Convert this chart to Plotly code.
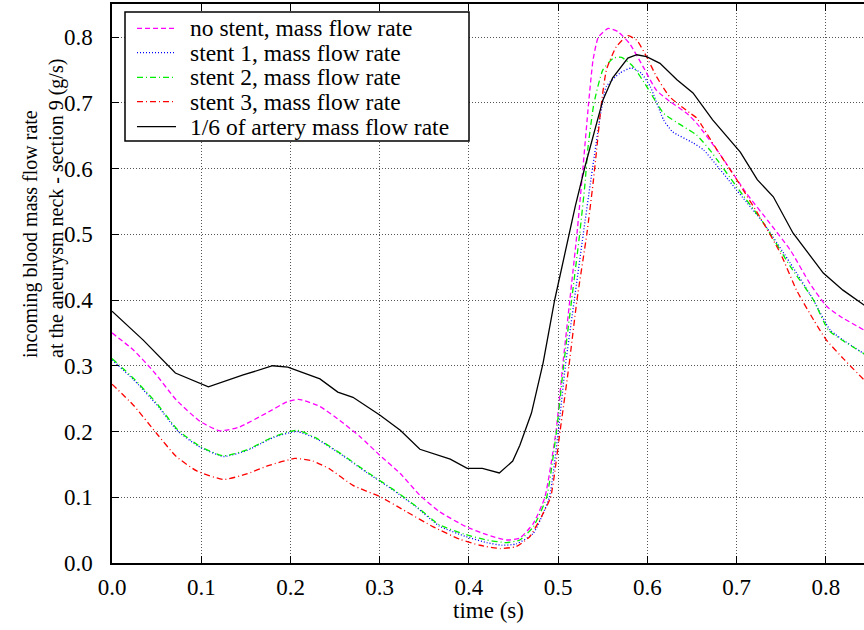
import plotly.graph_objects as go

# ---- data ----
T_NOSTENT = [0, 0.024, 0.048, 0.072, 0.099, 0.121, 0.143, 0.173, 0.196, 0.209, 0.233, 0.255, 0.278, 0.300,
             0.323, 0.345, 0.367, 0.397, 0.420, 0.442, 0.457, 0.472, 0.485, 0.4975, 0.505, 0.513, 0.521, 0.527,
             0.534, 0.539, 0.545, 0.556, 0.567, 0.580, 0.595, 0.610, 0.625, 0.644, 0.655, 0.678, 0.711, 0.737,
             0.760, 0.782, 0.801, 0.816, 0.843]
V_NOSTENT = [0.350, 0.324, 0.289, 0.248, 0.215, 0.201, 0.207, 0.228, 0.245, 0.249, 0.238, 0.217, 0.192, 0.164,
             0.136, 0.103, 0.078, 0.055, 0.043, 0.035, 0.038, 0.060, 0.100, 0.200, 0.300, 0.400, 0.501, 0.590,
             0.699, 0.765, 0.800, 0.813, 0.808, 0.790, 0.755, 0.719, 0.702, 0.684, 0.669, 0.628, 0.562, 0.517,
             0.476, 0.425, 0.390, 0.375, 0.354]

T_STENT1 = [0, 0.024, 0.050, 0.074, 0.099, 0.125, 0.151, 0.181, 0.207, 0.229, 0.259, 0.285, 0.315, 0.341,
            0.367, 0.397, 0.420, 0.437, 0.453, 0.472, 0.490, 0.500, 0.508, 0.518, 0.528, 0.536, 0.547, 0.554,
            0.569, 0.582, 0.593, 0.603, 0.618, 0.628, 0.651, 0.663, 0.700, 0.730, 0.760, 0.786, 0.805, 0.843]
V_STENT1 = [0.309, 0.279, 0.241, 0.200, 0.176, 0.162, 0.171, 0.191, 0.200, 0.189, 0.163, 0.138, 0.111, 0.085,
            0.056, 0.040, 0.031, 0.027, 0.029, 0.045, 0.100, 0.200, 0.300, 0.400, 0.500, 0.577, 0.679, 0.725,
            0.745, 0.753, 0.745, 0.725, 0.674, 0.656, 0.639, 0.628, 0.567, 0.517, 0.456, 0.400, 0.354, 0.318]

T_STENT2 = [0, 0.024, 0.050, 0.074, 0.099, 0.125, 0.151, 0.181, 0.207, 0.229, 0.259, 0.285, 0.315, 0.341,
            0.367, 0.397, 0.420, 0.442, 0.457, 0.472, 0.487, 0.498, 0.506, 0.515, 0.524, 0.530, 0.533, 0.540,
            0.550, 0.562, 0.571, 0.584, 0.599, 0.618, 0.640, 0.655, 0.670, 0.700, 0.730, 0.760, 0.786, 0.803,
            0.843]
V_STENT2 = [0.311, 0.281, 0.243, 0.202, 0.177, 0.163, 0.172, 0.192, 0.202, 0.190, 0.164, 0.139, 0.112, 0.086,
            0.058, 0.043, 0.035, 0.031, 0.035, 0.055, 0.100, 0.200, 0.300, 0.400, 0.500, 0.577, 0.628, 0.699,
            0.750, 0.768, 0.769, 0.755, 0.725, 0.684, 0.664, 0.651, 0.628, 0.572, 0.517, 0.451, 0.400, 0.354,
            0.318]

T_STENT3 = [0, 0.024, 0.050, 0.072, 0.095, 0.125, 0.150, 0.175, 0.205, 0.225, 0.244, 0.270, 0.300, 0.330,
            0.360, 0.390, 0.412, 0.435, 0.453, 0.468, 0.481, 0.4915, 0.502, 0.512, 0.521, 0.532, 0.539, 0.543,
            0.548, 0.554, 0.565, 0.578, 0.588, 0.599, 0.610, 0.625, 0.648, 0.655, 0.678, 0.700, 0.730, 0.749,
            0.767, 0.786, 0.800, 0.820, 0.843]
V_STENT3 = [0.272, 0.240, 0.197, 0.162, 0.140, 0.127, 0.135, 0.148, 0.159, 0.155, 0.143, 0.118, 0.101, 0.078,
            0.055, 0.036, 0.027, 0.022, 0.025, 0.040, 0.070, 0.100, 0.200, 0.300, 0.400, 0.500, 0.577, 0.628,
            0.695, 0.750, 0.785, 0.802, 0.795, 0.770, 0.740, 0.709, 0.684, 0.677, 0.628, 0.583, 0.517, 0.471,
            0.415, 0.370, 0.340, 0.310, 0.278]

T_ARTERY = [0, 0.035, 0.071, 0.108, 0.147, 0.180, 0.197, 0.233, 0.253, 0.270, 0.300, 0.323, 0.345, 0.379,
            0.398, 0.415, 0.434, 0.449, 0.457, 0.470, 0.483, 0.496, 0.519, 0.530, 0.550, 0.561, 0.578, 0.588,
            0.599, 0.614, 0.633, 0.651, 0.673, 0.704, 0.723, 0.741, 0.763, 0.797, 0.819, 0.843]
V_ARTERY = [0.383, 0.339, 0.289, 0.268, 0.286, 0.300, 0.298, 0.280, 0.260, 0.252, 0.225, 0.202, 0.173, 0.158,
            0.144, 0.144, 0.137, 0.155, 0.179, 0.228, 0.304, 0.400, 0.542, 0.603, 0.704, 0.738, 0.768, 0.773,
            0.770, 0.760, 0.735, 0.715, 0.674, 0.625, 0.583, 0.557, 0.502, 0.441, 0.415, 0.392]

NAMES = ["no stent, mass flow rate", "stent 1, mass flow rate", "stent 2, mass flow rate",
         "stent 3, mass flow rate", "1/6 of artery mass flow rate"]
X_TICKS = [0.0, 0.1, 0.2, 0.3, 0.4, 0.5, 0.6, 0.7, 0.8]
Y_TICKS = [0.0, 0.1, 0.2, 0.3, 0.4, 0.5, 0.6, 0.7, 0.8]
Y_TITLE = "incoming blood mass flow rate<br>at the aneurysm neck - section 9 (g/s)"
X_TITLE = "time (s)"

FONT = "Liberation Serif"
FS = 23        # tick labels / key
FS_YT = 20     # y-axis title lines
FS_XT = 23     # x-axis title

# pixel -> paper helpers (plot area: x 112..864, y 4..563)
def px(xp):
    return (xp - 112) / 752.0

def py(yp):
    return (563 - yp) / 559.0

fig = go.Figure()
series = [
    (T_NOSTENT, V_NOSTENT, NAMES[0], "#ff00ff", "5px,3px", "spline"),
    (T_STENT1, V_STENT1, NAMES[1], "#0000ff", "1px,2px", "spline"),
    (T_STENT2, V_STENT2, NAMES[2], "#00ee00", "6px,3px,1px,3px", "spline"),
    (T_STENT3, V_STENT3, NAMES[3], "#ff0000", "6px,3px,1px,3px", "spline"),
    (T_ARTERY, V_ARTERY, NAMES[4], "#000000", "solid", "linear"),
]
for t, v, name, col, dash, shape in series:
    line = dict(color=col, width=1.3, dash=dash, shape=shape)
    if shape == "spline":
        line["smoothing"] = 0.5
    fig.add_trace(go.Scatter(x=t, y=v, mode="lines", name=name, line=line, showlegend=False))

axis_common = dict(
    showline=True, linecolor="black", linewidth=1.5,
    ticks="inside", ticklen=7, tickwidth=1.2, tickcolor="black",
    showgrid=True, gridcolor="#555555", gridwidth=1, griddash="1px,2px",
    zeroline=False,
    tickfont=dict(family=FONT, size=FS, color="black"),
)
fig.update_xaxes(range=[0, 0.8426], tickvals=X_TICKS, ticktext=[f"{x:.1f}" for x in X_TICKS],
                 mirror="ticks", ticklabelstandoff=3, **axis_common)
fig.update_yaxes(range=[0, 0.8502], tickvals=Y_TICKS, ticktext=[f"{y:.1f}" for y in Y_TICKS],
                 mirror=False, ticklabelstandoff=13, **axis_common)

# key box drawn as border, samples, labels
shapes = [dict(type="rect", xref="paper", yref="paper", x0=px(125), x1=px(469), y0=py(141), y1=py(12),
               line=dict(color="black", width=1.5), fillcolor="white", layer="above")]
annotations = []
row_y = [28.3, 52.7, 77.3, 101.7, 126.7]
for (t, v, name, col, dash, shape), ry in zip(series, row_y):
    shapes.append(dict(type="line", xref="paper", yref="paper", x0=px(137), x1=px(176), y0=py(ry), y1=py(ry),
                       line=dict(color=col, width=1.3, dash=dash), layer="above"))
    annotations.append(dict(text=name, xref="paper", yref="paper", x=px(188), y=py(ry),
                            xanchor="left", yanchor="middle", showarrow=False,
                            font=dict(family=FONT, size=FS + 0.5, color="black")))

annotations += [
    dict(text=X_TITLE, xref="paper", yref="paper", x=0.5, y=py(610), xanchor="center", yanchor="middle",
         showarrow=False, font=dict(family=FONT, size=FS_XT, color="black")),
    dict(text=Y_TITLE, xref="paper", yref="paper", align="left",
         x=px(44), y=py(209), xanchor="center", yanchor="middle",
         textangle=-90, showarrow=False, font=dict(family=FONT, size=FS_YT, color="black")),
]

fig.update_layout(
    width=864, height=630,
    margin=dict(l=112, r=0, t=4, b=67, pad=0),
    plot_bgcolor="white", paper_bgcolor="white",
    font=dict(family=FONT, size=FS, color="black"),
    showlegend=False,
    shapes=shapes,
    annotations=annotations,
)

fig.write_html("out.html", config={"displayModeBar": False},
               post_script="document.body.style.margin='0';document.body.style.overflow='hidden';")
